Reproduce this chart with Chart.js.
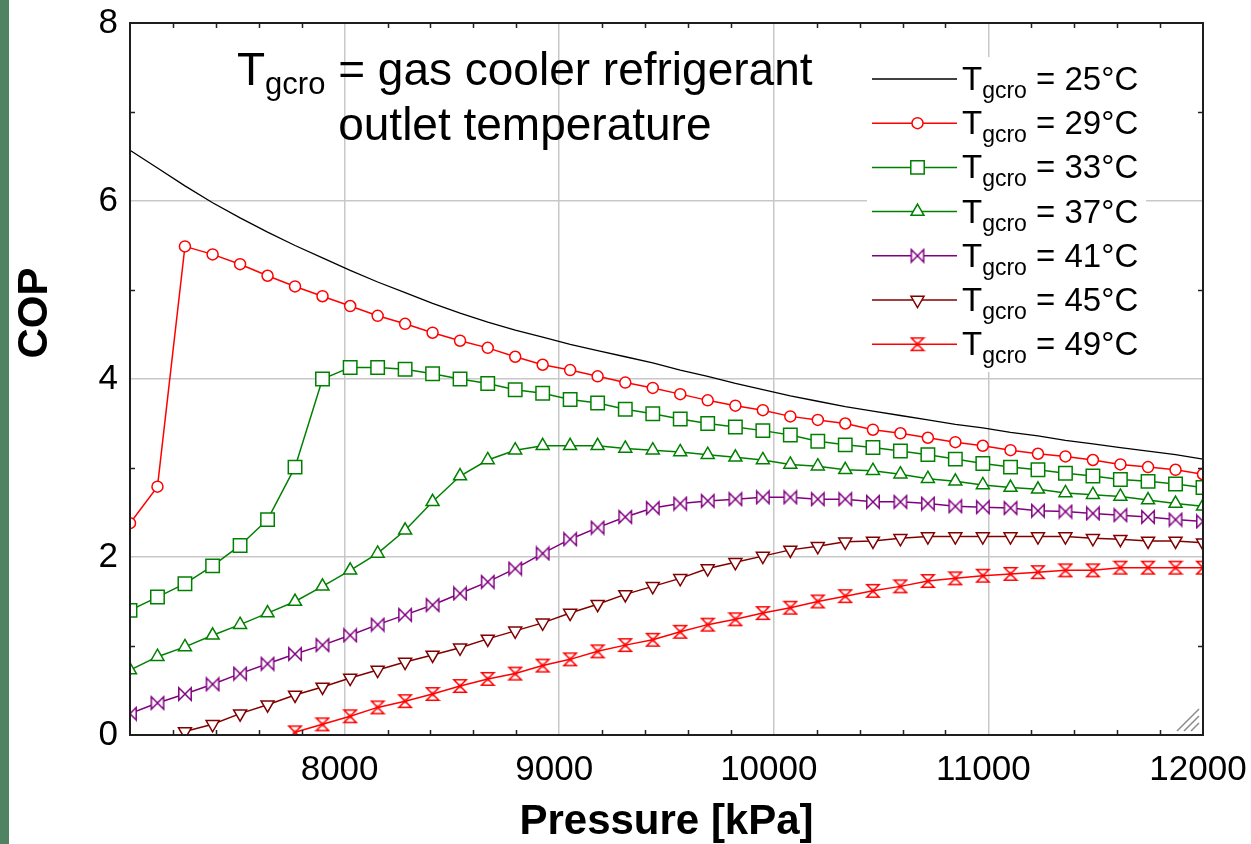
<!DOCTYPE html>
<html>
<head>
<meta charset="utf-8">
<script src="https://cdn.jsdelivr.net/npm/chart.js@4.4.1/dist/chart.umd.min.js"></script>
<style>
  html, body { margin: 0; padding: 0; background: #fff; }
  #wrap { position: relative; width: 1251px; height: 844px; }
  #strip { position: absolute; left: 0; top: 0; width: 9px; height: 844px; background: #4f8362; }
  canvas { position: absolute; left: 0; top: 0; }
</style>
</head>
<body>
<div id="wrap">
  <canvas id="copChart" width="1251" height="844"></canvas>
  <div id="strip"></div>
</div>
<script>
// gas cooler pressure [kPa]
const pressures = [7000, 7128, 7256, 7385, 7513, 7641, 7769, 7897, 8026, 8154,
  8282, 8410, 8538, 8667, 8795, 8923, 9051, 9179, 9308, 9436,
  9564, 9692, 9821, 9949, 10077, 10205, 10333, 10462, 10590, 10718,
  10846, 10974, 11103, 11231, 11359, 11487, 11615, 11744, 11872, 12000];

const temps = [25, 29, 33, 37, 41, 45, 49];

const cop25 = [6.57, 6.37, 6.17, 5.98, 5.81, 5.65, 5.50, 5.36, 5.22, 5.09,
  4.97, 4.85, 4.74, 4.64, 4.55, 4.47, 4.39, 4.32, 4.25, 4.18,
  4.10, 4.03, 3.95, 3.88, 3.81, 3.75, 3.69, 3.64, 3.59, 3.54,
  3.49, 3.45, 3.40, 3.36, 3.31, 3.27, 3.23, 3.19, 3.15, 3.10];
const cop29 = [2.38, 2.79, 5.49, 5.40, 5.29, 5.16, 5.04, 4.93, 4.82, 4.71,
  4.62, 4.52, 4.43, 4.35, 4.25, 4.16, 4.10, 4.03, 3.96, 3.90,
  3.83, 3.76, 3.70, 3.65, 3.58, 3.54, 3.50, 3.43, 3.39, 3.34,
  3.29, 3.25, 3.20, 3.16, 3.13, 3.09, 3.04, 3.01, 2.98, 2.93];
const cop33 = [1.40, 1.55, 1.70, 1.90, 2.13, 2.42, 3.01, 4.00, 4.13, 4.13,
  4.11, 4.06, 4.00, 3.95, 3.88, 3.84, 3.77, 3.73, 3.66, 3.61,
  3.55, 3.50, 3.46, 3.42, 3.37, 3.30, 3.26, 3.23, 3.19, 3.15,
  3.10, 3.05, 3.01, 2.98, 2.94, 2.91, 2.87, 2.85, 2.82, 2.78];
const cop37 = [0.73, 0.88, 0.99, 1.12, 1.24, 1.37, 1.50, 1.67, 1.85, 2.04,
  2.30, 2.62, 2.91, 3.09, 3.20, 3.25, 3.25, 3.25, 3.22, 3.20,
  3.18, 3.15, 3.12, 3.09, 3.04, 3.02, 2.98, 2.97, 2.93, 2.88,
  2.85, 2.81, 2.78, 2.76, 2.72, 2.70, 2.68, 2.64, 2.60, 2.57];
const cop41 = [0.24, 0.36, 0.46, 0.57, 0.69, 0.80, 0.91, 1.01, 1.12, 1.24,
  1.35, 1.46, 1.59, 1.72, 1.87, 2.04, 2.20, 2.33, 2.45, 2.55,
  2.60, 2.63, 2.65, 2.67, 2.67, 2.65, 2.65, 2.62, 2.62, 2.60,
  2.57, 2.56, 2.55, 2.52, 2.51, 2.49, 2.47, 2.45, 2.42, 2.40];
const cop45 = [null, null, 0.04, 0.12, 0.24, 0.34, 0.45, 0.54, 0.64, 0.73,
  0.82, 0.90, 0.98, 1.08, 1.17, 1.26, 1.37, 1.47, 1.58, 1.67,
  1.76, 1.87, 1.94, 2.01, 2.08, 2.12, 2.17, 2.18, 2.21, 2.23,
  2.23, 2.23, 2.23, 2.23, 2.23, 2.21, 2.20, 2.18, 2.18, 2.16];
const cop49 = [null, null, null, null, null, null, 0.03, 0.12, 0.21, 0.31,
  0.38, 0.46, 0.55, 0.63, 0.69, 0.78, 0.85, 0.94, 1.01, 1.07,
  1.16, 1.24, 1.30, 1.37, 1.43, 1.50, 1.56, 1.62, 1.67, 1.73,
  1.76, 1.79, 1.81, 1.83, 1.85, 1.85, 1.88, 1.88, 1.88, 1.88];

const xTicks = [8000, 9000, 10000, 11000, 12000];
const yTicks = [0, 2, 4, 6, 8];

const FONT = "'Liberation Sans', Arial, sans-serif";
const GRID = '#c8c8c8';

// bowtie / hourglass symbols drawn on small canvases
function makeMarker(kind, color) {
  const c = document.createElement('canvas');
  c.width = 16; c.height = 16;
  const g = c.getContext('2d');
  const m = 8, r = 6.2;
  g.strokeStyle = color;
  g.fillStyle = '#fff';
  g.lineWidth = 1.5;
  g.beginPath();
  if (kind === 'bowtie') {
    g.moveTo(m - r, m - r); g.lineTo(m + r, m + r);
    g.lineTo(m + r, m - r); g.lineTo(m - r, m + r);
  } else {
    g.moveTo(m - r, m - r); g.lineTo(m + r, m - r);
    g.lineTo(m - r, m + r); g.lineTo(m + r, m + r);
  }
  g.closePath();
  g.fill();
  g.stroke();
  if (kind === 'hourglass') {
    g.beginPath();
    g.moveTo(m - 2.5, m); g.lineTo(m + 2.5, m);
    g.moveTo(m, m - 2.5); g.lineTo(m, m + 2.5);
    g.lineWidth = 1;
    g.stroke();
  }
  return c;
}

const series = [
  { values: cop25, color: '#000000', style: 'circle', radius: 0 },
  { values: cop29, color: '#ff0000', style: 'circle', radius: 5.5 },
  { values: cop33, color: '#008000', style: 'rect', radius: 9.5 },
  { values: cop37, color: '#008000', style: 'triangle', radius: 7.5 },
  { values: cop41, color: '#800080', style: makeMarker('bowtie', '#800080'), radius: 6 },
  { values: cop45, color: '#800000', style: 'triangle', radius: 7.5, rotation: 180 },
  { values: cop49, color: '#ff0000', style: makeMarker('hourglass', '#ff0000'), radius: 6 },
];

const datasets = series.map((s, i) => ({
  label: 'Tgcro = ' + temps[i] + '°C',
  data: pressures.map((p, k) => ({ x: p, y: s.values[k] })),
  borderColor: s.color,
  borderWidth: i === 0 ? 1.3 : 1.5,
  pointStyle: s.style,
  pointRadius: s.radius,
  pointRotation: s.rotation || 0,
  pointBorderColor: s.color,
  pointBackgroundColor: '#fff',
  pointBorderWidth: 1.5,
  tension: 0,
  clip: 0,
}));

function gridColor(edges) {
  return (c) => (c.tick && edges.includes(c.tick.value)) ? 'rgba(0,0,0,0)' : GRID;
}

// labels stick out of the plot box; keep the box where the layout puts it
function noScalePadding(s) {
  s.paddingLeft = 0;
  s.paddingRight = 0;
  s.paddingTop = 0;
  s.paddingBottom = 0;
}

// text with a subscript part: T + gcro + rest
function drawSubLabel(ctx, x, y, size, subSize, subDrop, rest) {
  ctx.font = size + 'px ' + FONT;
  ctx.fillText('T', x, y);
  x += ctx.measureText('T').width;
  ctx.font = subSize + 'px ' + FONT;
  ctx.fillText('gcro', x, y + subDrop);
  x += ctx.measureText('gcro').width;
  ctx.font = size + 'px ' + FONT;
  const sp = ctx.measureText(' ').width;
  ctx.fillText(rest, x + sp, y);
  return x + sp;
}

const decor = {
  id: 'decor',
  afterDraw(chart) {
    const { ctx, chartArea: a, scales: { x, y } } = chart;
    ctx.save();

    // inward minor ticks on all four sides
    ctx.strokeStyle = '#222';
    ctx.lineWidth = 1.5;
    ctx.beginPath();
    for (let v = 7200; v < 12000; v += 200) {
      if (v % 1000 === 0) continue;
      const px = Math.round(x.getPixelForValue(v)) + 0.5;
      ctx.moveTo(px, a.bottom); ctx.lineTo(px, a.bottom - 5);
      ctx.moveTo(px, a.top); ctx.lineTo(px, a.top + 5);
    }
    for (let v = 1; v < 8; v += 2) {
      const py = Math.round(y.getPixelForValue(v)) + 0.5;
      ctx.moveTo(a.left, py); ctx.lineTo(a.left + 5, py);
      ctx.moveTo(a.right, py); ctx.lineTo(a.right - 5, py);
    }
    ctx.stroke();

    // frame
    ctx.lineWidth = 2;
    ctx.strokeStyle = '#1e1e1e';
    ctx.strokeRect(a.left, a.top, a.right - a.left, a.bottom - a.top);

    // resize grip in the corner
    ctx.strokeStyle = '#8c8c8c';
    ctx.lineWidth = 1.5;
    ctx.beginPath();
    for (let k = 0; k < 3; k++) {
      ctx.moveTo(a.right - 4, a.bottom - 26 + k * 7);
      ctx.lineTo(a.right - 26 + k * 7, a.bottom - 4);
    }
    ctx.stroke();

    // legend
    ctx.fillStyle = '#fff';
    ctx.fillRect(867, 57, 279, 315);
    chart.data.datasets.forEach((ds, i) => {
      const ly = 79 + i * 44.2;
      ctx.strokeStyle = ds.borderColor;
      ctx.lineWidth = 1.5;
      ctx.beginPath();
      ctx.moveTo(872, ly); ctx.lineTo(957, ly);
      ctx.stroke();
      if (ds.pointRadius > 0) {
        ctx.fillStyle = '#fff';
        ctx.strokeStyle = ds.borderColor;
        ctx.lineWidth = ds.pointBorderWidth;
        Chart.helpers.drawPoint(ctx, {
          pointStyle: ds.pointStyle,
          radius: ds.pointRadius,
          rotation: ds.pointRotation,
          borderWidth: ds.pointBorderWidth,
        }, 917.5, ly);
      }
      ctx.fillStyle = '#000';
      ctx.textAlign = 'left';
      ctx.textBaseline = 'alphabetic';
      drawSubLabel(ctx, 962, ly + 11, 33, 23, 8, '= ' + temps[i] + '°C');
    });

    // note on the symbol
    ctx.fillStyle = '#000';
    const x2 = drawSubLabel(ctx, 237, 85, 46, 31, 9, '= gas cooler refrigerant');
    ctx.font = '46px ' + FONT;
    ctx.fillText('outlet temperature', x2, 140);

    // axis titles
    ctx.font = 'bold 42px ' + FONT;
    ctx.textAlign = 'center';
    ctx.fillText('Pressure [kPa]', (a.left + a.right) / 2, 834);
    ctx.translate(47, 313);
    ctx.rotate(-Math.PI / 2);
    ctx.fillText('COP', 0, 0);

    ctx.restore();
  },
};

new Chart(document.getElementById('copChart'), {
  type: 'line',
  data: { datasets },
  options: {
    responsive: false,
    animation: false,
    events: [],
    layout: { padding: { left: 0, top: 23, right: 48, bottom: 0 } },
    plugins: { legend: { display: false }, tooltip: { enabled: false } },
    scales: {
      x: {
        type: 'linear',
        min: 7000,
        max: 12000,
        afterFit(s) { s.height = 109; noScalePadding(s); },
        afterBuildTicks(s) { s.ticks = [7000].concat(xTicks).map(v => ({ value: v })); },
        ticks: {
          autoSkip: false,
          maxRotation: 0,
          padding: 14,
          labelOffset: -5,
          color: '#000',
          font: { family: FONT, size: 35 },
          callback: (v) => (xTicks.includes(v) ? String(v) : ''),
        },
        grid: { drawTicks: false, lineWidth: 1.5, color: gridColor([7000, 12000]) },
        border: { display: false },
      },
      y: {
        min: 0,
        max: 8,
        afterFit(s) { s.width = 130; noScalePadding(s); },
        afterBuildTicks(s) { s.ticks = yTicks.map(v => ({ value: v })); },
        ticks: {
          padding: 12,
          color: '#000',
          font: { family: FONT, size: 35 },
        },
        grid: { drawTicks: false, lineWidth: 1.5, color: gridColor([0, 8]) },
        border: { display: false },
      },
    },
  },
  plugins: [decor],
});
</script>
</body>
</html>
